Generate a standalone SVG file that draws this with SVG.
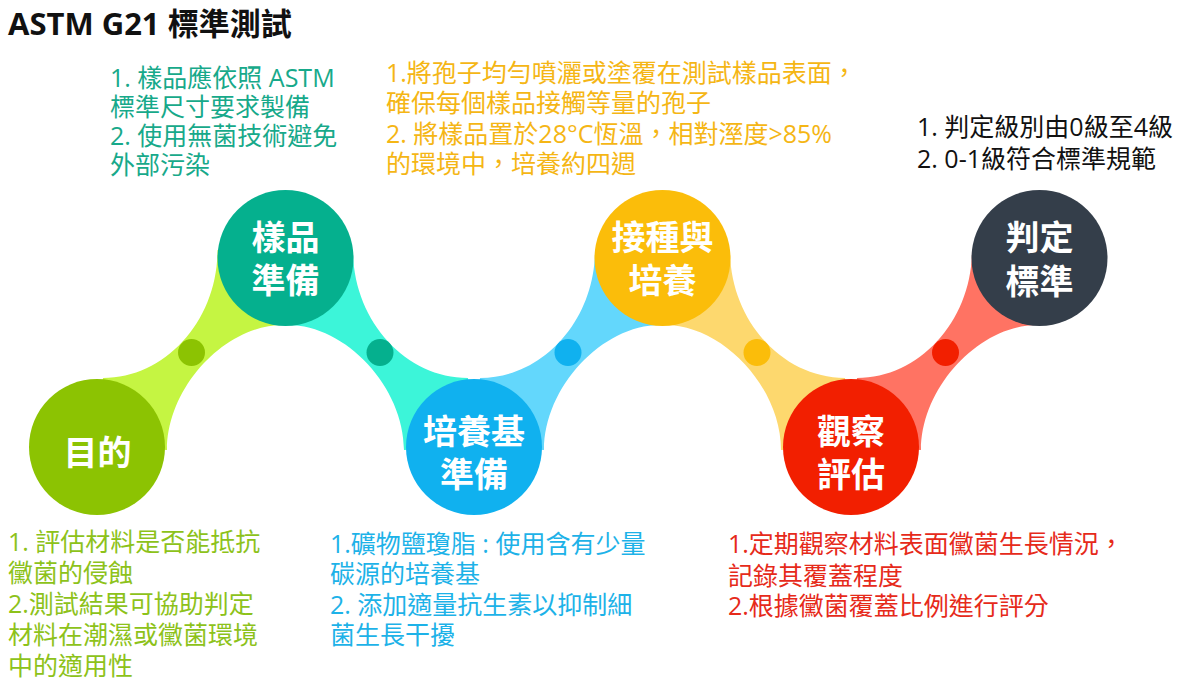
<svg xmlns="http://www.w3.org/2000/svg" width="1185" height="682" viewBox="0 0 1185 682">
<style>
text{font-family:"Open Sans","Noto Sans CJK TC","Noto Sans",sans-serif;dominant-baseline:central}
.title{font-size:31px;font-weight:bold;fill:#111}
.lbl{font-size:34px;font-weight:bold;fill:#fff;text-anchor:middle}
.body{font-size:25px}
.c1{fill:#8dc21a}.c2{fill:#17a98a}.c3{fill:#1db2e8}.c4{fill:#f5b615}.c5{fill:#e62a1a}.c6{fill:#111}
</style>
<rect width="1185" height="682" fill="#fff"/>
<text class="title" x="8" y="23">ASTM G21 標準測試</text>

<g id="connectors">
  <path d="M103,378 C166,378 217.5,320 217.5,250 L285.5,258 L283,325 C225,325 167,387.5 167,450 L97,447 Z" fill="#c5f542"/>
  <path d="M468,378 C405,378 353,320 353,250 L285.5,258 L288,325 C346,325 404,387.5 404,450 L474,447 Z" fill="#3cf5d9"/>
  <path d="M480,378 C543,378 595,320 595,250 L662.5,258 L660,325 C602,325 544,387.5 544,450 L474,447 Z" fill="#63d7fc"/>
  <path d="M845,378 C782,378 730,320 730,250 L662.5,258 L665,325 C723,325 781,387.5 781,450 L851,447 Z" fill="#fdd86e"/>
  <path d="M857,378 C920,378 972,320 972,250 L1039.5,258 L1037,325 C979,325 921,387.5 921,450 L851,447 Z" fill="#ff7363"/>
  <circle cx="191.5" cy="352.5" r="13.5" fill="#8cc302"/>
  <circle cx="380" cy="352.5" r="13.5" fill="#05b08e"/>
  <circle cx="568" cy="352.5" r="13.5" fill="#10b1ef"/>
  <circle cx="757" cy="352.5" r="13.5" fill="#fbbd0a"/>
  <circle cx="945.5" cy="352.5" r="13.5" fill="#f21f00"/>
</g>

<g id="node-purpose">
  <circle cx="97" cy="447" r="68" fill="#8cc302"/>
  <text class="lbl" x="97.5" y="452">目的</text>
</g>
<g id="node-sample">
  <circle cx="285.5" cy="258" r="68" fill="#05b08e"/>
  <text class="lbl" x="285.5" y="237">樣品<tspan x="285.5" y="280">準備</tspan></text>
</g>
<g id="node-medium">
  <circle cx="474" cy="447" r="68" fill="#10b1ef"/>
  <text class="lbl" x="474" y="431">培養基<tspan x="474" y="474">準備</tspan></text>
</g>
<g id="node-inoculate">
  <circle cx="662.5" cy="258" r="68" fill="#fbbd0a"/>
  <text class="lbl" x="662.5" y="237">接種與<tspan x="662.5" y="280">培養</tspan></text>
</g>
<g id="node-observe">
  <circle cx="851" cy="447" r="68" fill="#f21f00"/>
  <text class="lbl" x="851" y="431">觀察<tspan x="851" y="474">評估</tspan></text>
</g>
<g id="node-judge">
  <circle cx="1039.5" cy="258" r="68" fill="#343e4a"/>
  <text class="lbl" x="1039.5" y="237">判定<tspan x="1039.5" y="281">標準</tspan></text>
</g>

<g id="notes">
  <text class="body c2" x="110" y="77">1. 樣品應依照 ASTM<tspan x="110" y="106">標準尺寸要求製備</tspan><tspan x="110" y="135">2. 使用無菌技術避免</tspan><tspan x="110" y="164">外部污染</tspan></text>

  <text class="body c4" x="386" y="72">1.將孢子均勻噴灑或塗覆在測試樣品表面，<tspan x="386" y="102">確保每個樣品接觸等量的孢子</tspan><tspan x="386" y="132.5">2. 將樣品置於28°C恆溫，相對溼度&gt;85%</tspan><tspan x="386" y="163">的環境中，培養約四週</tspan></text>

  <text class="body c6" x="917" y="126">1. 判定級別由0級至4級<tspan x="917" y="157.5">2. 0-1級符合標準規範</tspan></text>

  <text class="body c1" x="8" y="541">1. 評估材料是否能抵抗<tspan x="8" y="572">黴菌的侵蝕</tspan><tspan x="8" y="603">2.測試結果可協助判定</tspan><tspan x="8" y="634">材料在潮濕或黴菌環境</tspan><tspan x="8" y="664.5">中的適用性</tspan></text>

  <text class="body c3" x="330" y="542.5">1.礦物鹽瓊脂 : 使用含有少量<tspan x="330" y="573">碳源的培養基</tspan><tspan x="330" y="604">2. 添加適量抗生素以抑制細</tspan><tspan x="330" y="634">菌生長干擾</tspan></text>

  <text class="body c5" x="728" y="543">1.定期觀察材料表面黴菌生長情況，<tspan x="728" y="575">記錄其覆蓋程度</tspan><tspan x="728" y="605">2.根據黴菌覆蓋比例進行評分</tspan></text>
</g>
</svg>
